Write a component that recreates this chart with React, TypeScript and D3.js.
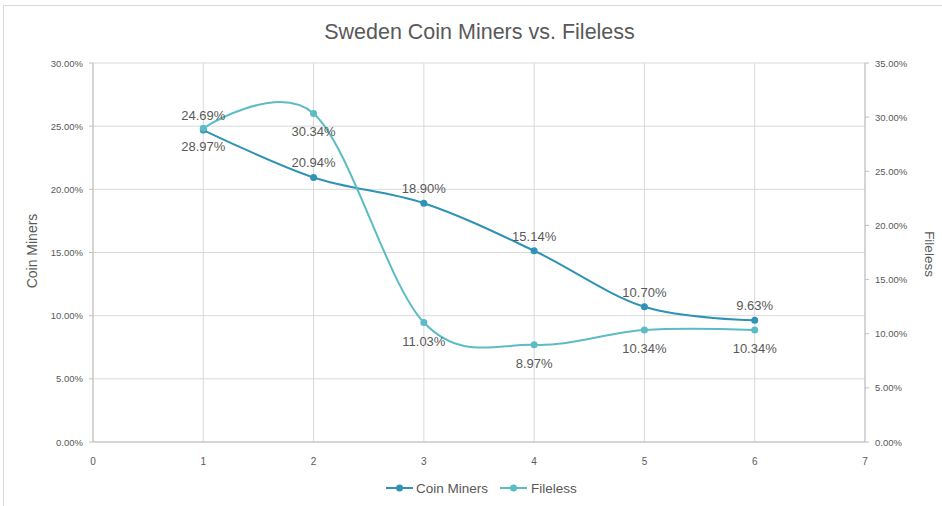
import React from "react";
import * as d3 from "d3";

const xValues = [1, 2, 3, 4, 5, 6];
const coinMiners = [24.69, 20.94, 18.9, 15.14, 10.7, 9.63];
const fileless = [28.97, 30.34, 11.03, 8.97, 10.34, 10.34];
const xTicks = [0, 1, 2, 3, 4, 5, 6, 7];
const leftTicks = [0, 5, 10, 15, 20, 25, 30];
const rightTicks = [0, 5, 10, 15, 20, 25, 30, 35];

const W = 942;
const H = 506;
const left = 93;
const right = 865;
const top = 63;
const bottom = 442;
const font = "'Liberation Sans', Arial, sans-serif";
const textColor = "#595959";
const coinColor = "#3093b6";
const fileColor = "#5cbcc6";

export default function App() {
  const x = d3.scaleLinear().domain([0, 7]).range([left, right]);
  const yL = d3.scaleLinear().domain([0, 30]).range([bottom, top]);
  const yR = d3.scaleLinear().domain([0, 35]).range([bottom, top]);
  const curve = d3.curveCardinal.tension(0);
  const coinLine = d3
    .line<number>()
    .x((_, i) => x(xValues[i]))
    .y((d) => yL(d))
    .curve(curve);
  const fileLine = d3
    .line<number>()
    .x((_, i) => x(xValues[i]))
    .y((d) => yR(d))
    .curve(curve);

  return (
    <svg
      width={W}
      height={H}
      style={{ position: "absolute", left: 0, top: 0, background: "#fff" }}
      fontFamily={font}
    >
      <rect x={3.5} y={5.5} width={W + 10} height={H + 10} fill="#fff" stroke="#d9d9d9" />
      <text x={479.5} y={39} textAnchor="middle" fontSize={21.5} fill={textColor}>
        Sweden Coin Miners vs. Fileless
      </text>
      {/* gridlines */}
      {leftTicks.map((t) => (
        <line key={"h" + t} x1={left} x2={right} y1={yL(t)} y2={yL(t)} stroke="#d9d9d9" />
      ))}
      {xTicks.map((t) => (
        <line key={"v" + t} x1={x(t)} x2={x(t)} y1={top} y2={bottom} stroke="#d9d9d9" />
      ))}
      {/* axes */}
      <line x1={left} x2={left} y1={top} y2={bottom} stroke="#bfbfbf" />
      <line x1={right} x2={right} y1={top} y2={bottom} stroke="#bfbfbf" />
      <line x1={left} x2={right} y1={bottom} y2={bottom} stroke="#bfbfbf" />
      {leftTicks.map((t) => (
        <g key={"lt" + t}>
          <line x1={left - 4} x2={left} y1={yL(t)} y2={yL(t)} stroke="#bfbfbf" />
          <text x={83} y={yL(t) + 3.5} textAnchor="end" fontSize={9.5} fill={textColor}>
            {t.toFixed(2)}%
          </text>
        </g>
      ))}
      {rightTicks.map((t) => (
        <g key={"rt" + t}>
          <line x1={right} x2={right + 4} y1={yR(t)} y2={yR(t)} stroke="#bfbfbf" />
          <text x={875} y={yR(t) + 3.5} textAnchor="start" fontSize={9.5} fill={textColor}>
            {t.toFixed(2)}%
          </text>
        </g>
      ))}
      {xTicks.map((t) => (
        <text key={"xt" + t} x={x(t)} y={465} textAnchor="middle" fontSize={10} fill={textColor}>
          {t}
        </text>
      ))}
      <text
        transform={`translate(37,251) rotate(-90)`}
        textAnchor="middle"
        fontSize={14}
        fill={textColor}
      >
        Coin Miners
      </text>
      <text
        transform={`translate(925,254) rotate(90)`}
        textAnchor="middle"
        fontSize={13.5}
        fill={textColor}
      >
        Fileless
      </text>
      {/* series */}
      <path d={coinLine(coinMiners) || ""} fill="none" stroke={coinColor} strokeWidth={2} />
      <path d={fileLine(fileless) || ""} fill="none" stroke={fileColor} strokeWidth={2} />
      {coinMiners.map((v, i) => (
        <circle key={"cc" + i} cx={x(xValues[i])} cy={yL(v)} r={3.5} fill={coinColor} />
      ))}
      {fileless.map((v, i) => (
        <circle key={"fc" + i} cx={x(xValues[i])} cy={yR(v)} r={3.5} fill={fileColor} />
      ))}
      {coinMiners.map((v, i) => (
        <text
          key={"cl" + i}
          x={x(xValues[i])}
          y={yL(v) - 10}
          textAnchor="middle"
          fontSize={13}
          fill={textColor}
        >
          {v.toFixed(2)}%
        </text>
      ))}
      {fileless.map((v, i) => (
        <text
          key={"fl" + i}
          x={x(xValues[i])}
          y={yR(v) + 23}
          textAnchor="middle"
          fontSize={13}
          fill={textColor}
        >
          {v.toFixed(2)}%
        </text>
      ))}
      {/* legend */}
      <line x1={386} x2={413} y1={488} y2={488} stroke={coinColor} strokeWidth={2} />
      <circle cx={399.5} cy={488} r={3.5} fill={coinColor} />
      <text x={416} y={493} fontSize={13.5} fill={textColor}>
        Coin Miners
      </text>
      <line x1={500} x2={527} y1={488} y2={488} stroke={fileColor} strokeWidth={2} />
      <circle cx={513.5} cy={488} r={3.5} fill={fileColor} />
      <text x={531} y={493} fontSize={13.5} fill={textColor}>
        Fileless
      </text>
    </svg>
  );
}
